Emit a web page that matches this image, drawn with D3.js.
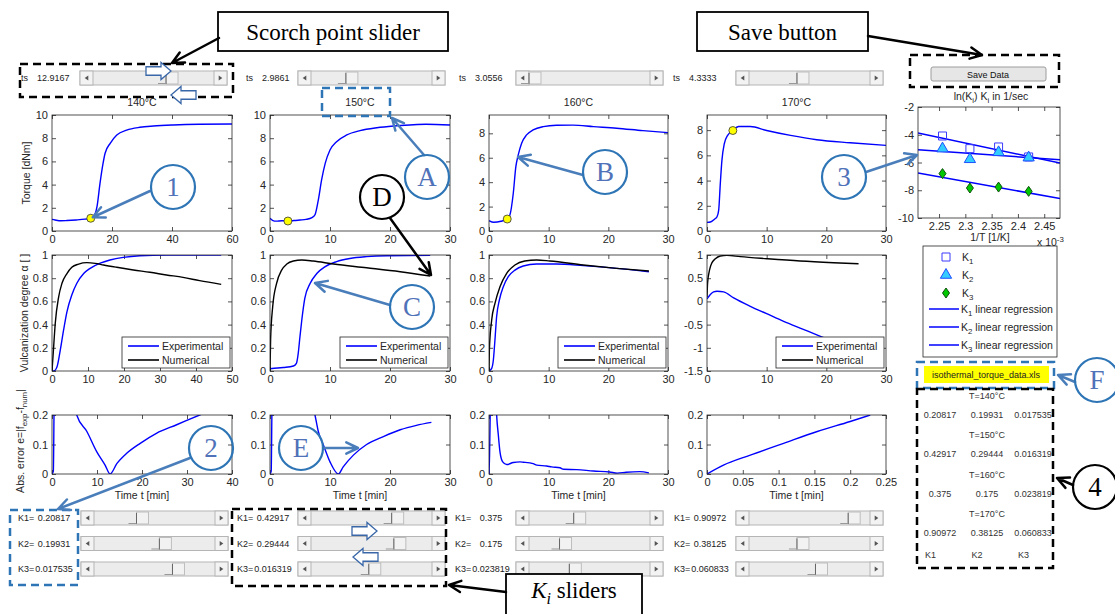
<!DOCTYPE html>
<html>
<head>
<meta charset="utf-8">
<script src="https://cdn.jsdelivr.net/npm/d3@7"></script>
<style>
  body { margin: 0; background: #fff; }
  svg { display: block; }
  text { font-family: "Liberation Sans", Arial, sans-serif; }
</style>
</head>
<body>
<svg id="chart" width="1115" height="614"></svg>
<script>
// ---- data ----
const temps = ['140°C', '150°C', '160°C', '170°C'];
const tsValues = [12.9167, 2.9861, 3.0556, 4.3333];
const tsText = ['12.9167', '2.9861', '3.0556', '4.3333'];
const scorchTorque = [1.1, 0.86, 0.98, 7.97];
const k1Text = ['0.20817', '0.42917', '0.375', '0.90972'];
const k2Text = ['0.19931', '0.29444', '0.175', '0.38125'];
const k3Text = ['0.017535', '0.016319', '0.023819', '0.060833'];
// slider thumb positions (0..1)
const tsThumb = [0.67, 0.32, 0.0, 0.44];
const k1Thumb = [0.39, 0.74, 0.41, 0.91];
const k2Thumb = [0.6, 0.76, 0.28, 0.44];
const k3Thumb = [0.72, 0.53, 0.37, 0.61];

const torque140 = [[0, 1.0], [1, 0.95], [3, 0.88], [5, 0.9], [8, 0.95], [11, 1.02], [13, 1.1], [14.4, 1.5], [15, 2.1], [16, 4.1], [17, 5.8], [17.7, 6.7], [19.4, 7.56], [21.6, 8.28], [24.9, 8.7], [29.3, 8.94], [33.8, 9.05], [40.4, 9.14], [49, 9.2], [60, 9.22]];
const torque150 = [[0, 1.1], [0.5, 0.9], [1, 0.85], [2, 0.88], [3, 0.86], [4, 0.9], [5, 0.95], [6, 1.0], [7, 1.15], [7.5, 1.4], [8.05, 2.67], [8.6, 4.4], [9.2, 5.83], [10, 6.98], [11.1, 7.7], [12.8, 8.28], [15, 8.65], [17.8, 8.9], [20.6, 9.05], [23.3, 9.14], [26, 9.2], [30, 9.14]];
const torque160 = [[0, 0.85], [0.8, 0.72], [2, 0.8], [3, 0.98], [3.5, 1.31], [4.07, 3.09], [4.5, 5.27], [4.9, 6.23], [5.47, 7.19], [6.3, 7.87], [7.4, 8.28], [9.1, 8.55], [11.3, 8.66], [14.1, 8.67], [17.5, 8.55], [21.4, 8.42], [25.8, 8.22], [30, 8.06]];
const torque170 = [[0, 0.68], [0.56, 0.71], [1.3, 0.95], [1.68, 1.13], [1.96, 1.66], [2.23, 3.76], [2.5, 5.6], [2.9, 6.92], [3.46, 7.58], [4.3, 7.97], [5.3, 8.29], [7.26, 8.29], [10, 7.97], [14, 7.58], [18.4, 7.24], [24, 7.0], [30, 6.79]];

const alphaExp140 = [[0, 0], [0.5, 0], [1.4, 0.037], [2.3, 0.18], [3.2, 0.35], [4.15, 0.51], [5.5, 0.655], [6.9, 0.756], [8.8, 0.84], [10.6, 0.885], [13.4, 0.93], [16.1, 0.957], [19.8, 0.98], [24.4, 0.994], [31.8, 1.0], [47, 1.0]];
const alphaNum140 = [[0, 0], [0.46, 0.21], [0.9, 0.41], [1.85, 0.64], [2.77, 0.756], [4.15, 0.84], [5.5, 0.894], [7.4, 0.922], [9.7, 0.934], [12, 0.928], [14.3, 0.914], [18, 0.894], [22.6, 0.871], [27.2, 0.851], [31.8, 0.828], [36.4, 0.807], [41, 0.779], [47, 0.747]];
const alphaExp150 = [[0, 0.02], [2.2, 0.03], [3.9, 0.043], [4.4, 0.066], [4.7, 0.15], [5, 0.3], [5.3, 0.44], [5.8, 0.626], [6.7, 0.756], [7.8, 0.84], [9.2, 0.9], [11.1, 0.943], [13.3, 0.97], [16.1, 0.986], [19.4, 0.994], [26.7, 0.997]];
const alphaNum150 = [[0, 0], [0.1, 0.27], [0.44, 0.55], [1.1, 0.756], [1.94, 0.87], [2.8, 0.922], [3.9, 0.948], [5.3, 0.957], [7.2, 0.948], [10.6, 0.922], [16.1, 0.89], [21.7, 0.856], [26.7, 0.819]];
const alphaExp160 = [[0, 0], [0.45, 0.023], [0.73, 0.095], [1.0, 0.27], [1.28, 0.47], [1.73, 0.61], [2.4, 0.727], [3.23, 0.813], [4.35, 0.87], [5.74, 0.905], [7.97, 0.922], [11.3, 0.922], [15.8, 0.908], [21.4, 0.885], [26.8, 0.856]];
const alphaNum160 = [[0, 0], [0.06, 0.18], [0.45, 0.44], [1.0, 0.583], [1.84, 0.727], [2.96, 0.842], [4.35, 0.914], [6.0, 0.948], [7.97, 0.957], [10.2, 0.948], [15.8, 0.914], [21.4, 0.885], [26.8, 0.862]];
const alphaExp170 = [[0, 0.054], [0.56, 0.147], [1.1, 0.205], [1.68, 0.22], [2.8, 0.205], [4.47, 0.075], [7.26, -0.106], [10, -0.265], [12.85, -0.43], [15.6, -0.575], [18.4, -0.72], [20.1, -0.81], [22.5, -0.93], [25, -1.07], [27, -1.17]];
const alphaNum170 = [[0, 0.097], [0.1, 0.4], [0.45, 0.69], [0.84, 0.835], [1.4, 0.92], [2.23, 0.978], [3.35, 0.993], [5.6, 0.964], [10, 0.92], [15.6, 0.87], [21.2, 0.834], [25.4, 0.812]];

const err140 = [[0, 0], [0.3, 0.01], [0.5, 0.26], [1.5, 0.45], [3, 0.42], [4.5, 0.28], [5.5, 0.2], [7.75, 0.144], [9.96, 0.075], [11.8, 0.03], [12.9, 0], [14.4, 0.035], [16.6, 0.07], [19.6, 0.104], [23.2, 0.138], [27.7, 0.167], [32.8, 0.2], [36, 0.22]];
const err150 = [[0, 0], [0.2, 0.01], [0.35, 0.25], [2, 0.6], [5, 0.5], [7, 0.25], [7.5, 0.2], [8.05, 0.144], [8.9, 0.098], [10, 0.041], [11.4, 0], [12.2, 0.024], [13.9, 0.064], [16.1, 0.1], [18.9, 0.127], [21.7, 0.15], [24.4, 0.165], [26.9, 0.175]];
const err160 = [[0, 0], [0.1, 0.07], [0.2, 0.2], [0.3, 0.3], [1.0, 0.35], [1.28, 0.2], [1.56, 0.133], [1.84, 0.075], [2.3, 0.041], [2.96, 0.032], [4.07, 0.039], [5.2, 0.041], [5.74, 0.04], [7.4, 0.035], [8, 0.03], [9.65, 0.027], [10.5, 0.024], [11.9, 0.021], [12.5, 0.016], [14.7, 0.015], [17.5, 0.01], [20.2, 0.007], [21.5, 0.003], [23, 0.006], [25.3, 0.008], [26.8, 0.004]];
const err170 = [[0, 0], [0.023, 0.03], [0.0605, 0.064], [0.107, 0.104], [0.154, 0.144], [0.2, 0.178], [0.228, 0.2]];

// Arrhenius plot: 1/T (x 1e-3) for 140..170 °C and ln(K)
const invT = [2.4204, 2.3632, 2.3087, 2.2566];
const lnK1 = [-5.6, -4.88, -5.0, -4.09];
const lnK2 = [-5.65, -5.27, -5.77, -5.0];
const lnK3 = [-8.08, -7.77, -7.84, -6.8];

const svg = d3.select('#chart');
const AX = '#262626';
const BLUE = '#0000ff';
const CALLOUT = '#2e75b6';
const ARROW = '#4a7ebb';

const colX = [52, 270, 489, 707];
const colW = [180, 180, 179, 179];

let clipN = 0;
function panel(o) {
  const x = d3.scaleLinear().domain(o.xd).range([o.x0, o.x0 + o.w]);
  const y = d3.scaleLinear().domain(o.yd).range([o.y0 + o.h, o.y0]);
  const id = 'clip' + (clipN++);
  svg.append('clipPath').attr('id', id).append('rect')
    .attr('x', o.x0).attr('y', o.y0).attr('width', o.w).attr('height', o.h);
  const g = svg.append('g');
  g.append('rect').attr('x', o.x0).attr('y', o.y0).attr('width', o.w).attr('height', o.h).attr('fill', '#fff');
  const style = s => {
    s.attr('font-size', null).attr('font-family', null);
    s.select('.domain').remove();
    s.selectAll('line').attr('stroke', AX).attr('stroke-width', 0.8);
    s.selectAll('text').attr('fill', AX).style('font-size', '11px');
  };
  const fmt = d => String(d);
  g.append('g').attr('transform', `translate(0,${o.y0 + o.h})`)
    .call(d3.axisBottom(x).tickValues(o.xt).tickSize(-4).tickPadding(4).tickFormat(fmt)).call(style);
  g.append('g').attr('transform', `translate(0,${o.y0})`)
    .call(d3.axisTop(x).tickValues(o.xt).tickSize(-4).tickFormat('')).call(style);
  g.append('g').attr('transform', `translate(${o.x0},0)`)
    .call(d3.axisLeft(y).tickValues(o.yt).tickSize(-4).tickPadding(4).tickFormat(fmt)).call(style);
  g.append('g').attr('transform', `translate(${o.x0 + o.w},0)`)
    .call(d3.axisRight(y).tickValues(o.yt).tickSize(-4).tickFormat('')).call(style);
  const plot = g.append('g').attr('clip-path', `url(#${id})`);
  const top = g.append('g');
  g.append('rect').attr('x', o.x0).attr('y', o.y0).attr('width', o.w).attr('height', o.h)
    .attr('fill', 'none').attr('stroke', AX).attr('stroke-width', 0.8);
  const line = d3.line().x(d => x(d[0])).y(d => y(d[1])).curve(d3.curveMonotoneX);
  const addLine = (data, color) => plot.append('path').datum(data).attr('d', line)
    .attr('fill', 'none').attr('stroke', color).attr('stroke-width', 1.4);
  return { x, y, g, plot, top, addLine, o };
}

function rich(g, x, y, parts, size, anchor) {
  const t = g.append('text').attr('x', x).attr('y', y).attr('fill', AX)
    .style('font-size', size + 'px').attr('text-anchor', anchor || 'start');
  let shift = 0;
  parts.forEach(p => {
    const s = typeof p === 'string' ? [p, 0] : p;
    const target = s[1] === 'sub' ? size * 0.3 : s[1] === 'sup' ? -size * 0.4 : 0;
    t.append('tspan').attr('dy', target - shift).style('font-size', (s[1] ? size * 0.75 : size) + 'px').text(s[0]);
    shift = target;
  });
  return t;
}

// ---- torque row ----
const torqueData = [torque140, torque150, torque160, torque170];
const torqueX = [[0, 60], [0, 30], [0, 30], [0, 30]];
const torqueXt = [[0, 20, 40, 60], [0, 10, 20, 30], [0, 10, 20, 30], [0, 10, 20, 30]];
const torqueY = [[0, 10], [0, 10], [0, 9.5], [0, 9.2]];
const torqueYt = [[0, 2, 4, 6, 8, 10], [0, 2, 4, 6, 8, 10], [0, 2, 4, 6, 8], [0, 2, 4, 6, 8]];
const torquePanels = torqueData.map((data, i) => {
  const p = panel({ x0: colX[i], w: colW[i], y0: 115, h: 116, xd: torqueX[i], yd: torqueY[i], xt: torqueXt[i], yt: torqueYt[i] });
  p.addLine(data, BLUE);
  p.g.append('circle').attr('cx', p.x(tsValues[i])).attr('cy', p.y(scorchTorque[i])).attr('r', 4)
    .attr('fill', '#ffff00').attr('stroke', '#333').attr('stroke-width', 0.8);
  svg.append('text').attr('x', colX[i] + colW[i] / 2).attr('y', 106).attr('text-anchor', 'middle')
    .attr('fill', AX).style('font-size', '10.5px').text(temps[i]);
  return p;
});

// ---- vulcanization degree row ----
const alphaData = [[alphaExp140, alphaNum140], [alphaExp150, alphaNum150], [alphaExp160, alphaNum160], [alphaExp170, alphaNum170]];
const alphaX = [[0, 50], [0, 30], [0, 30], [0, 30]];
const alphaXt = [[0, 10, 20, 30, 40, 50], [0, 10, 20, 30], [0, 10, 20, 30], [0, 10, 20, 30]];
const alphaYt01 = [0, 0.2, 0.4, 0.6, 0.8, 1];
const alphaY = [[0, 1], [0, 1], [0, 1], [-1.5, 1]];
const alphaYt = [alphaYt01, alphaYt01, alphaYt01, [-1.5, -1, -0.5, 0, 0.5, 1]];
const legendNames = ['Experimental', 'Numerical'];
alphaData.forEach((pair, i) => {
  const p = panel({ x0: colX[i], w: colW[i], y0: 255, h: 116, xd: alphaX[i], yd: alphaY[i], xt: alphaXt[i], yt: alphaYt[i] });
  p.addLine(pair[0], BLUE);
  p.addLine(pair[1], '#000');
  const lx = colX[i] + colW[i] - 110, ly = 337;
  const lg = p.top.append('g').attr('transform', `translate(${lx},${ly})`);
  lg.append('rect').attr('width', 108).attr('height', 31).attr('fill', '#fff').attr('stroke', AX).attr('stroke-width', 0.8);
  legendNames.forEach((name, j) => {
    lg.append('line').attr('x1', 6).attr('x2', 37).attr('y1', 9 + j * 14).attr('y2', 9 + j * 14)
      .attr('stroke', j ? '#000' : BLUE).attr('stroke-width', 1.6);
    lg.append('text').attr('x', 40).attr('y', 13 + j * 14).attr('fill', AX).style('font-size', '10.5px').text(name);
  });
});

// ---- absolute error row ----
const errData = [err140, err150, err160, err170];
const errX = [[0, 40], [0, 30], [0, 30], [0, 0.25]];
const errXt = [[0, 10, 20, 30, 40], [0, 10, 20, 30], [0, 10, 20, 30], [0, 0.05, 0.1, 0.15, 0.2, 0.25]];
errData.forEach((data, i) => {
  const p = panel({ x0: colX[i], w: colW[i], y0: 415, h: 59, xd: errX[i], yd: [0, 0.2], xt: errXt[i], yt: [0, 0.1, 0.2] });
  p.addLine(data, BLUE);
  svg.append('text').attr('x', colX[i] + colW[i] / 2).attr('y', 499).attr('text-anchor', 'middle')
    .attr('fill', AX).style('font-size', '10.5px').text('Time t [min]');
});

// y-axis labels
svg.append('text').attr('transform', 'translate(30,173) rotate(-90)').attr('text-anchor', 'middle')
  .attr('fill', AX).style('font-size', '10.5px').text('Torque [dNm]');
svg.append('text').attr('transform', 'translate(28,313) rotate(-90)').attr('text-anchor', 'middle')
  .attr('fill', AX).style('font-size', '10.5px').text('Vulcanization degree α [ ]');
const errLab = svg.append('g').attr('transform', 'translate(24,441) rotate(-90)');
rich(errLab, 0, 0, ['Abs. error e=|f', ['exp', 'sub'], '-f', ['num', 'sub'], '|'], 10.5, 'middle');

// ---- Arrhenius plot ----
const arr = panel({ x0: 918, w: 142, y0: 107, h: 111, xd: [2.21, 2.48], yd: [-10, -2],
  xt: [2.25, 2.3, 2.35, 2.4, 2.45], yt: [-10, -8, -6, -4, -2] });
function fit(xs, ys) {
  const mx = d3.mean(xs), my = d3.mean(ys);
  const b = d3.sum(xs, (v, i) => (v - mx) * (ys[i] - my)) / d3.sum(xs, v => (v - mx) * (v - mx));
  return v => my + b * (v - mx);
}
[lnK1, lnK2, lnK3].forEach(ys => {
  const f = fit(invT, ys);
  const dom = arr.x.domain();
  arr.plot.append('path').datum(dom.map(v => [v, f(v)]))
    .attr('d', d3.line().x(d => arr.x(d[0])).y(d => arr.y(d[1])))
    .attr('stroke', BLUE).attr('stroke-width', 1.5).attr('fill', 'none');
});
const square = d3.symbol(d3.symbolSquare, 64);
const tri = d3.symbol(d3.symbolTriangle, 55);
const diamond = 'M0,-5L3.5,0L0,5L-3.5,0Z';
const markerStyles = [
  { ys: lnK1, d: square(), fill: 'none', stroke: '#3b3bff' },
  { ys: lnK2, d: tri(), fill: '#33ccff', stroke: '#1d4fff' },
  { ys: lnK3, d: diamond, fill: '#00c800', stroke: '#105010' }
];
markerStyles.forEach(m => {
  m.ys.forEach((v, i) => {
    arr.g.append('path').attr('d', m.d).attr('transform', `translate(${arr.x(invT[i])},${arr.y(v)})`)
      .attr('fill', m.fill).attr('stroke', m.stroke).attr('stroke-width', 1);
  });
});
rich(svg, 991, 100, ['ln(K', ['i', 'sub'], ') K', ['i', 'sub'], ' in 1/sec'], 10.5, 'middle');
svg.append('text').attr('x', 990).attr('y', 241).attr('text-anchor', 'middle').attr('fill', AX)
  .style('font-size', '10.5px').text('1/T [1/K]');
rich(svg, 1037, 246, ['x 10', ['-3', 'sup']], 10.5, 'start');

// legend of Arrhenius plot
const alg = svg.append('g').attr('transform', 'translate(923,246)');
alg.append('rect').attr('width', 134).attr('height', 111).attr('fill', '#fff').attr('stroke', AX).attr('stroke-width', 0.8);
markerStyles.forEach((m, j) => {
  alg.append('path').attr('d', m.d).attr('transform', `translate(23,${11 + j * 18})`)
    .attr('fill', m.fill).attr('stroke', m.stroke);
  rich(alg, 39, 15 + j * 18, ['K', [String(j + 1), 'sub']], 10.5);
});
[0, 1, 2].forEach(j => {
  const yy = 63 + j * 18;
  alg.append('line').attr('x1', 6).attr('x2', 36).attr('y1', yy).attr('y2', yy).attr('stroke', BLUE).attr('stroke-width', 1.5);
  rich(alg, 38, yy + 4, ['K', [String(j + 1), 'sub'], ' linear regression'], 10.5);
});

// data file label and parameter table
svg.append('rect').attr('x', 924).attr('y', 366).attr('width', 125).attr('height', 17).attr('fill', '#ffff00');
svg.append('text').attr('x', 986).attr('y', 378).attr('text-anchor', 'middle').style('font-size', '9px')
  .attr('fill', '#222').text('isothermal_torque_data.xls');
const tableRows = temps.map((t, i) => ({ title: 'T=' + t, vals: [k1Text[i], k2Text[i], k3Text[i]] }));
const colCx = [940, 987, 1033];
tableRows.forEach((r, i) => {
  const y0 = 399 + i * 39.3;
  svg.append('text').attr('x', 987).attr('y', y0).attr('text-anchor', 'middle').style('font-size', '9px').attr('fill', '#333').text(r.title);
  r.vals.forEach((v, j) => svg.append('text').attr('x', colCx[j]).attr('y', y0 + 19).attr('text-anchor', 'middle')
    .style('font-size', '9px').attr('fill', '#333').text(v));
});
['K1', 'K2', 'K3'].forEach((k, j) => svg.append('text').attr('x', 925 + j * 46.5).attr('y', 558)
  .style('font-size', '9px').attr('fill', '#333').text(k));

// ---- sliders ----
function slider(x, yc, w, f) {
  const h = 14, b = 13, tw = 12;
  const g = svg.append('g').attr('transform', `translate(${x},${yc - h / 2})`);
  g.append('rect').attr('width', w).attr('height', h).attr('fill', '#ececec').attr('stroke', '#b5b5b5');
  [0, w - b].forEach((bx, i) => {
    g.append('rect').attr('x', bx).attr('width', b).attr('height', h).attr('fill', '#f3f3f3').attr('stroke', '#b5b5b5');
    const cx = bx + b / 2, cy = h / 2, d = i ? 1 : -1;
    g.append('path').attr('d', `M${cx + 1.8 * d},${cy}L${cx - 1.8 * d},${cy - 2.6}L${cx - 1.8 * d},${cy + 2.6}Z`).attr('fill', '#555');
  });
  const tx = b + f * (w - 2 * b - tw);
  g.append('rect').attr('x', tx).attr('y', 1).attr('width', tw).attr('height', h - 2).attr('fill', '#f2f2f2').attr('stroke', '#bdbdbd');
  g.append('line').attr('x1', tx).attr('x2', tx).attr('y1', 2).attr('y2', h - 1).attr('stroke', '#666');
  g.append('line').attr('x1', tx - 8).attr('x2', tx).attr('y1', h - 1.5).attr('y2', h - 1.5).attr('stroke', '#999');
}
const tsLabelX = [21, 246, 459, 673];
const sliderX = [80, 298, 516, 736];
const kLabelX = [18, 237, 455, 674];
tsText.forEach((v, i) => {
  svg.append('text').attr('x', tsLabelX[i]).attr('y', 81).style('font-size', '9px').attr('fill', '#222').text('ts');
  svg.append('text').attr('x', tsLabelX[i] + 16).attr('y', 81).style('font-size', '9px').attr('fill', '#222').text(v);
  slider(sliderX[i], 78, 147, tsThumb[i]);
});
const kRows = [[k1Text, k1Thumb, 'K1='], [k2Text, k2Thumb, 'K2='], [k3Text, k3Thumb, 'K3=']];
kRows.forEach((row, r) => {
  const yc = 518 + r * 25.5;
  row[0].forEach((v, i) => {
    svg.append('text').attr('x', kLabelX[i]).attr('y', yc + 3).style('font-size', '9px').attr('fill', '#222').text(row[2]);
    svg.append('text').attr('x', kLabelX[i] + 36).attr('y', yc + 3).attr('text-anchor', 'middle').style('font-size', '9px').attr('fill', '#222').text(v);
    slider(sliderX[i] + (i === 0 ? 1 : 0), yc, 147, row[1][i]);
  });
});

// Save button
svg.append('rect').attr('x', 931).attr('y', 67).attr('width', 115).attr('height', 14).attr('rx', 2)
  .attr('fill', '#e6e6e6').attr('stroke', '#9c9c9c');
svg.append('text').attr('x', 988).attr('y', 77.5).attr('text-anchor', 'middle').style('font-size', '9px').attr('fill', '#111').text('Save Data');

// ---- annotations ----
function dashBox(x, y, w, h, color) {
  svg.append('rect').attr('x', x).attr('y', y).attr('width', w).attr('height', h).attr('fill', 'none')
    .attr('stroke', color).attr('stroke-width', 2.5).attr('stroke-dasharray', '8,5');
}
dashBox(20, 64, 213, 33, '#000');
dashBox(322, 88, 68, 28, CALLOUT);
dashBox(910, 55, 149, 32, '#000');
dashBox(10, 510, 68, 75, CALLOUT);
dashBox(232, 509, 214, 77, '#000');
dashBox(917, 362, 137, 26, CALLOUT);
dashBox(917, 389, 136, 179, '#000');

function arrow(x1, y1, x2, y2, color, w) {
  const a = Math.atan2(y2 - y1, x2 - x1), L = 13, s = 0.45;
  const p = d3.path();
  p.moveTo(x1, y1); p.lineTo(x2, y2);
  p.moveTo(x2 - L * Math.cos(a - s), y2 - L * Math.sin(a - s));
  p.lineTo(x2, y2);
  p.lineTo(x2 - L * Math.cos(a + s), y2 - L * Math.sin(a + s));
  svg.append('path').attr('d', p.toString()).attr('fill', 'none').attr('stroke', color)
    .attr('stroke-width', w).attr('stroke-linecap', 'round').attr('stroke-linejoin', 'round');
}
function callout(cx, cy, label, color, textColor) {
  svg.append('circle').attr('cx', cx).attr('cy', cy).attr('r', 22).attr('fill', 'none')
    .attr('stroke', color).attr('stroke-width', 2.2);
  svg.append('text').attr('x', cx).attr('y', cy + 9).attr('text-anchor', 'middle')
    .style('font-family', '"Liberation Serif", "Times New Roman", serif').style('font-size', '27px')
    .attr('fill', textColor).text(label);
}
const calloutText = '#4f72b8';
arrow(150, 191, torquePanels[0].x(tsValues[0]) + 2, torquePanels[0].y(scorchTorque[0]) - 1, ARROW, 2.5);
callout(173, 187, '1', CALLOUT, calloutText);
arrow(424, 155, 392, 118, ARROW, 2.5);
callout(427, 177, 'A', CALLOUT, calloutText);
arrow(583, 175, 518, 157, ARROW, 2.5);
callout(605, 172, 'B', CALLOUT, calloutText);
arrow(866, 172, 917, 155, ARROW, 2.5);
callout(844, 177, '3', CALLOUT, calloutText);
arrow(390, 305, 315, 283, ARROW, 2.5);
callout(412, 307, 'C', CALLOUT, calloutText);
arrow(390, 218, 431, 275, '#000', 2.5);
callout(382, 197, 'D', '#000', '#000');
arrow(190, 458, 58, 509, ARROW, 2.5);
callout(211, 448, '2', CALLOUT, calloutText);
arrow(323, 448, 358, 448, ARROW, 2.5);
callout(301, 448, 'E', CALLOUT, calloutText);
arrow(1075, 382, 1058, 375, ARROW, 2.5);
callout(1097, 380, 'F', CALLOUT, calloutText);
arrow(1073, 485, 1057, 478, '#000', 2.5);
callout(1095, 487, '4', '#000', '#000');

function blockArrow(x, yc, w, h, dir) {
  const sh = h * 0.5, head = w * 0.4;
  let pts = [[0, -sh / 2], [w - head, -sh / 2], [w - head, -h / 2], [w, 0], [w - head, h / 2], [w - head, sh / 2], [0, sh / 2]];
  if (dir < 0) pts = pts.map(p => [w - p[0], p[1]]);
  svg.append('path').attr('d', 'M' + pts.map(p => [x + p[0], yc + p[1]].join(',')).join('L') + 'Z')
    .attr('fill', '#fff').attr('stroke', '#3a67a8').attr('stroke-width', 1.3);
}
blockArrow(146, 71, 25, 17, 1);
blockArrow(171, 95, 25, 17, -1);
blockArrow(352, 531, 25, 17, 1);
blockArrow(353, 557, 25, 17, -1);

function textBox(x, y, w, h, parts, dy) {
  svg.append('rect').attr('x', x).attr('y', y).attr('width', w).attr('height', h)
    .attr('fill', '#fff').attr('stroke', '#000').attr('stroke-width', 1.8);
  const t = svg.append('text').attr('x', x + w / 2).attr('y', y + dy).attr('text-anchor', 'middle')
    .style('font-family', '"Liberation Serif", "Times New Roman", serif').style('font-size', '23px').attr('fill', '#000');
  parts.forEach(p => {
    const ts = t.append('tspan').text(p.t);
    if (p.italic) ts.style('font-style', 'italic');
    if (p.sub) ts.attr('dy', 6).style('font-size', '16px');
    if (p.after) ts.attr('dy', -6);
  });
}
textBox(218, 12, 230, 39, [{ t: 'Scorch point slider' }], 28);
arrow(219, 38, 172, 63, '#000', 2.5);
textBox(697, 12, 171, 39, [{ t: 'Save button' }], 28);
arrow(868, 36, 982, 55, '#000', 2.5);
textBox(506, 574, 136, 48, [{ t: 'K', italic: true }, { t: 'i', italic: true, sub: true }, { t: ' sliders', after: true }], 24);
arrow(506, 592, 449, 585, '#000', 2.5);
</script>
</body>
</html>
